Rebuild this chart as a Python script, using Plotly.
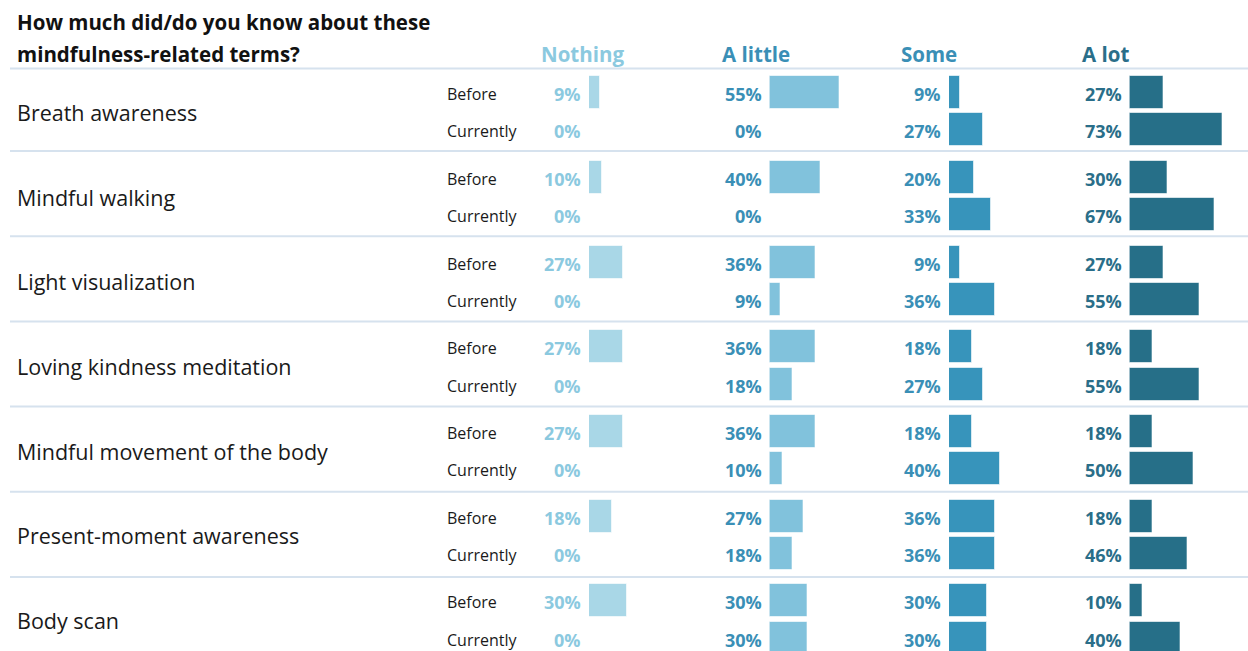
import plotly.graph_objects as go

terms = ["Breath awareness", "Mindful walking", "Light visualization",
         "Loving kindness meditation", "Mindful movement of the body",
         "Present-moment awareness", "Body scan"]
levels = ["Nothing", "A little", "Some", "A lot"]
periods = ["Before", "Currently"]

nothing_before = [9, 10, 27, 27, 27, 18, 30]
nothing_current = [0, 0, 0, 0, 0, 0, 0]
little_before = [55, 40, 36, 36, 36, 27, 30]
little_current = [0, 0, 9, 18, 10, 18, 30]
some_before = [9, 20, 9, 18, 18, 36, 30]
some_current = [27, 33, 36, 27, 40, 36, 30]
alot_before = [27, 30, 27, 18, 18, 18, 10]
alot_current = [73, 67, 55, 55, 50, 46, 40]

series = [
    (nothing_before, nothing_current),
    (little_before, little_current),
    (some_before, some_current),
    (alot_before, alot_current),
]

W, H = 1248, 651
bar_colors = ["#a9d7e7", "#81c2dc", "#3794bb", "#266f88"]
text_colors = ["#8bc9df", "#3a8fb6", "#3a8fb6", "#2a6e89"]
col_start = [589, 769.5, 949, 1129.5]  # pixel start of each column's bars
px_per_pct = 1.27

FONT = "'Open Sans', Lato, sans-serif"

group_h = 84.7
before_y0 = 92.7
row_gap = 37.2
bar_h = 33
text_dy = 1.5

fig = go.Figure()
layout_axes = {}
annotations = []

for ci, (lvl, (vb, vc)) in enumerate(zip(levels, series)):
    ax_name = "x" if ci == 0 else f"x{ci+1}"
    key = "xaxis" if ci == 0 else f"xaxis{ci+1}"
    d0 = col_start[ci] / W
    d1 = min(1.0, (col_start[ci] + 100 * px_per_pct) / W)
    rng = (d1 - d0) * W / px_per_pct
    layout_axes[key] = dict(domain=[d0, d1], range=[0, rng], visible=False,
                            anchor="y", fixedrange=True)
    ys, xs = [], []
    for k in range(len(terms)):
        yb = before_y0 + group_h * k
        for p, v in zip((0, 1), (vb[k], vc[k])):
            y = yb + p * row_gap
            ys.append(y)
            xs.append(v)
            annotations.append(dict(
                xref=ax_name, yref="y", x=0, y=y + text_dy, xanchor="right",
                yanchor="middle", xshift=-6, text=f"<b>{v}%</b>", showarrow=False,
                font=dict(family=FONT, size=18, color=text_colors[ci])))
    fig.add_trace(go.Bar(
        orientation="h", x=xs, y=ys, width=bar_h, xaxis=ax_name, yaxis="y",
        marker=dict(color=bar_colors[ci], line=dict(color="rgba(255,255,255,0.6)", width=1)),
        hoverinfo="skip", showlegend=False))
    annotations.append(dict(
        xref=ax_name, yref="y", x=0, y=54, xanchor="left", yanchor="middle",
        xshift=-50, text=f"<b>{lvl}</b>", showarrow=False,
        font=dict(family=FONT, size=20.5, color=text_colors[ci])))

for k, t in enumerate(terms):
    yb = before_y0 + group_h * k
    annotations.append(dict(
        xref="paper", yref="y", x=15 / W, y=yb + row_gap / 2 + 1, xanchor="left",
        yanchor="middle", text=t, showarrow=False,
        font=dict(family=FONT, size=21.5, color="#1a1a1a")))
    for p, lab in enumerate(periods):
        annotations.append(dict(
            xref="paper", yref="y", x=445 / W, y=yb + p * row_gap + text_dy,
            xanchor="left", yanchor="middle", text=lab, showarrow=False,
            font=dict(family=FONT, size=16, color="#1a1a1a")))

for i, line in enumerate(["How much did/do you know about these",
                          "mindfulness-related terms?"]):
    annotations.append(dict(
        xref="paper", yref="y", x=15 / W, y=22 + 32 * i, xanchor="left",
        yanchor="middle", text=f"<b>{line}</b>", showarrow=False,
        font=dict(family=FONT, size=20.5, color="#111111")))

# separator lines: header rule then one below each group except the last
sep_y = [68.5] + [151 + 85.2 * k for k in range(len(terms) - 1)]
shapes = []
for y in sep_y:
    shapes.append(dict(type="line", xref="paper", yref="y", x0=10 / W, x1=1,
                       y0=y, y1=y, line=dict(color="#d6e2ee", width=2)))

fig.update_layout(
    width=W, height=H, margin=dict(l=0, r=0, t=0, b=0),
    paper_bgcolor="white", plot_bgcolor="white",
    yaxis=dict(range=[H, 0], domain=[0, 1], visible=False, fixedrange=True),
    annotations=annotations, shapes=shapes, barmode="overlay", bargap=0,
    **layout_axes)

fig.write_html("out.html", config={"displayModeBar": False})
